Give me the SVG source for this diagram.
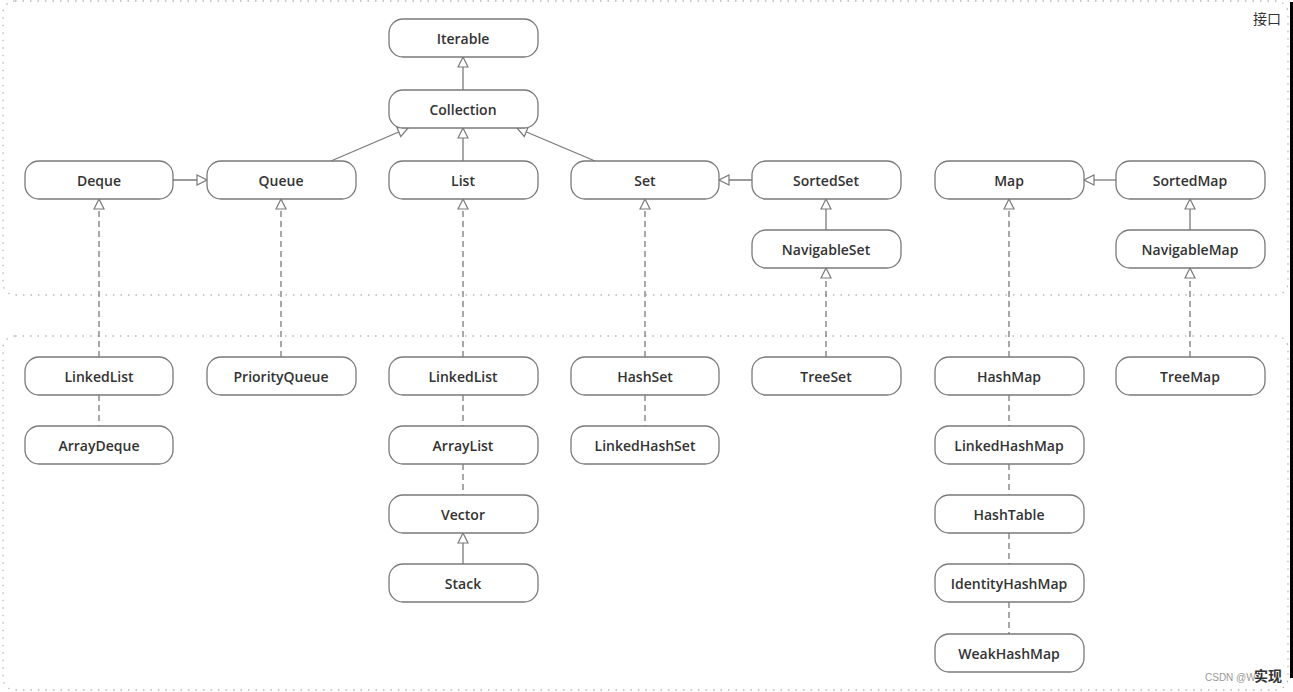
<svg xmlns="http://www.w3.org/2000/svg" width="1293" height="692" viewBox="0 0 1293 692">
<style>
.node rect{fill:#fff;stroke:#7a7a7a;stroke-width:1.3}
.node text{font-family:"Open Sans","Liberation Sans",sans-serif;font-size:14px;font-weight:600;fill:#333;text-anchor:middle;dominant-baseline:central}
.region{fill:none;stroke:#b8b8b8;stroke-width:1.3;stroke-dasharray:1.5 6}
.solid{stroke:#7a7a7a;stroke-width:1.3;fill:none}
.dash{stroke:#7a7a7a;stroke-width:1.3;fill:none;stroke-dasharray:6 4}
.lbl{font-family:"Liberation Sans","Noto Sans CJK SC",sans-serif;font-size:14px;fill:#333}
</style>
<defs>
<marker id="tri" viewBox="0 0 12 12" refX="11" refY="6" markerWidth="12" markerHeight="12" markerUnits="userSpaceOnUse" orient="auto">
<path d="M1,1 L11,6 L1,11 Z" fill="#fff" stroke="#7a7a7a" stroke-width="1.2"/>
</marker>
</defs>
<rect width="1293" height="692" fill="#fff"/>
<g id="regions">
<rect class="region" x="3" y="1" width="1285" height="294" rx="12"/>
<rect class="region" x="3" y="336" width="1285" height="354" rx="12"/>
<text class="lbl" x="1253" y="24">接口</text>
<text x="1205" y="681" font-family="Liberation Sans,sans-serif" font-size="10" fill="#999">CSDN @W</text>
<text class="lbl" x="1254" y="681" font-weight="bold">实现</text>
</g>
<rect x="1290" y="2" width="3" height="676" fill="#000"/>
<g id="connectors">
<line class="solid" x1="463" y1="90" x2="463" y2="57" marker-end="url(#tri)"/>
<line class="solid" x1="331" y1="161" x2="408" y2="128" marker-end="url(#tri)"/>
<line class="solid" x1="463" y1="161" x2="463" y2="128" marker-end="url(#tri)"/>
<line class="solid" x1="595" y1="161" x2="517" y2="128" marker-end="url(#tri)"/>
<line class="solid" x1="173" y1="180" x2="207" y2="180" marker-end="url(#tri)"/>
<line class="solid" x1="752" y1="180" x2="719" y2="180" marker-end="url(#tri)"/>
<line class="solid" x1="826" y1="230" x2="826" y2="199" marker-end="url(#tri)"/>
<line class="solid" x1="1116" y1="180" x2="1084" y2="180" marker-end="url(#tri)"/>
<line class="solid" x1="1190" y1="230" x2="1190" y2="199" marker-end="url(#tri)"/>
<line class="solid" x1="463" y1="564" x2="463" y2="533" marker-end="url(#tri)"/>
<line class="dash" x1="99" y1="357" x2="99" y2="199" marker-end="url(#tri)"/>
<line class="dash" x1="281" y1="357" x2="281" y2="199" marker-end="url(#tri)"/>
<line class="dash" x1="463" y1="357" x2="463" y2="199" marker-end="url(#tri)"/>
<line class="dash" x1="645" y1="357" x2="645" y2="199" marker-end="url(#tri)"/>
<line class="dash" x1="826" y1="357" x2="826" y2="268" marker-end="url(#tri)"/>
<line class="dash" x1="1009" y1="357" x2="1009" y2="199" marker-end="url(#tri)"/>
<line class="dash" x1="1190" y1="357" x2="1190" y2="268" marker-end="url(#tri)"/>
<line class="dash" x1="99" y1="395" x2="99" y2="426"/>
<line class="dash" x1="463" y1="395" x2="463" y2="426"/>
<line class="dash" x1="463" y1="464" x2="463" y2="495"/>
<line class="dash" x1="645" y1="395" x2="645" y2="426"/>
<line class="dash" x1="1009" y1="395" x2="1009" y2="426"/>
<line class="dash" x1="1009" y1="464" x2="1009" y2="495"/>
<line class="dash" x1="1009" y1="533" x2="1009" y2="564"/>
<line class="dash" x1="1009" y1="602" x2="1009" y2="634"/>
</g>
<g id="n-iterable" class="node"><rect x="389" y="19" width="149" height="38" rx="14"/><text x="463" y="38">Iterable</text></g>
<g id="n-collection" class="node"><rect x="389" y="90" width="149" height="38" rx="14"/><text x="463" y="109">Collection</text></g>
<g id="n-deque" class="node"><rect x="25" y="161" width="148" height="38" rx="14"/><text x="99" y="180">Deque</text></g>
<g id="n-queue" class="node"><rect x="207" y="161" width="149" height="38" rx="14"/><text x="281" y="180">Queue</text></g>
<g id="n-list" class="node"><rect x="389" y="161" width="149" height="38" rx="14"/><text x="463" y="180">List</text></g>
<g id="n-set" class="node"><rect x="571" y="161" width="148" height="38" rx="14"/><text x="645" y="180">Set</text></g>
<g id="n-sortedset" class="node"><rect x="752" y="161" width="149" height="38" rx="14"/><text x="826" y="180">SortedSet</text></g>
<g id="n-map" class="node"><rect x="935" y="161" width="149" height="38" rx="14"/><text x="1009" y="180">Map</text></g>
<g id="n-sortedmap" class="node"><rect x="1116" y="161" width="149" height="38" rx="14"/><text x="1190" y="180">SortedMap</text></g>
<g id="n-navigableset" class="node"><rect x="752" y="230" width="149" height="38" rx="14"/><text x="826" y="249">NavigableSet</text></g>
<g id="n-navigablemap" class="node"><rect x="1116" y="230" width="149" height="38" rx="14"/><text x="1190" y="249">NavigableMap</text></g>
<g id="n-linkedlist1" class="node"><rect x="25" y="357" width="148" height="38" rx="14"/><text x="99" y="376">LinkedList</text></g>
<g id="n-arraydeque" class="node"><rect x="25" y="426" width="148" height="38" rx="14"/><text x="99" y="445">ArrayDeque</text></g>
<g id="n-priorityqueue" class="node"><rect x="207" y="357" width="149" height="38" rx="14"/><text x="281" y="376">PriorityQueue</text></g>
<g id="n-linkedlist2" class="node"><rect x="389" y="357" width="149" height="38" rx="14"/><text x="463" y="376">LinkedList</text></g>
<g id="n-arraylist" class="node"><rect x="389" y="426" width="149" height="38" rx="14"/><text x="463" y="445">ArrayList</text></g>
<g id="n-vector" class="node"><rect x="389" y="495" width="149" height="38" rx="14"/><text x="463" y="514">Vector</text></g>
<g id="n-stack" class="node"><rect x="389" y="564" width="149" height="38" rx="14"/><text x="463" y="583">Stack</text></g>
<g id="n-hashset" class="node"><rect x="571" y="357" width="148" height="38" rx="14"/><text x="645" y="376">HashSet</text></g>
<g id="n-linkedhashset" class="node"><rect x="571" y="426" width="148" height="38" rx="14"/><text x="645" y="445">LinkedHashSet</text></g>
<g id="n-treeset" class="node"><rect x="752" y="357" width="149" height="38" rx="14"/><text x="826" y="376">TreeSet</text></g>
<g id="n-hashmap" class="node"><rect x="935" y="357" width="149" height="38" rx="14"/><text x="1009" y="376">HashMap</text></g>
<g id="n-linkedhashmap" class="node"><rect x="935" y="426" width="149" height="38" rx="14"/><text x="1009" y="445">LinkedHashMap</text></g>
<g id="n-hashtable" class="node"><rect x="935" y="495" width="149" height="38" rx="14"/><text x="1009" y="514">HashTable</text></g>
<g id="n-identityhashmap" class="node"><rect x="935" y="564" width="149" height="38" rx="14"/><text x="1009" y="583">IdentityHashMap</text></g>
<g id="n-weakhashmap" class="node"><rect x="935" y="634" width="149" height="38" rx="14"/><text x="1009" y="653">WeakHashMap</text></g>
<g id="n-treemap" class="node"><rect x="1116" y="357" width="149" height="38" rx="14"/><text x="1190" y="376">TreeMap</text></g>
</svg>
